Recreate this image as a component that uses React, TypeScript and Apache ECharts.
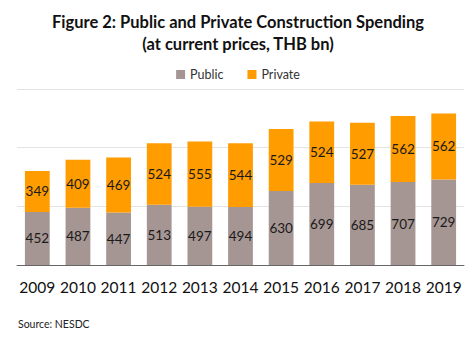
import React, { useEffect, useRef } from "react";
import * as echarts from "echarts";

const years = ["2009", "2010", "2011", "2012", "2013", "2014", "2015", "2016", "2017", "2018", "2019"];
const publicValues = [452, 487, 447, 513, 497, 494, 630, 699, 685, 707, 729];
const privateValues = [349, 409, 469, 524, 555, 544, 529, 524, 527, 562, 562];

const FONT = "Lato, 'Open Sans', sans-serif";

export default function App() {
  const ref = useRef<HTMLDivElement>(null);
  useEffect(() => {
    const chart = echarts.init(ref.current!, null, { renderer: "svg" });
    chart.setOption({
      animation: false,
      textStyle: { fontFamily: FONT },
      title: {
        text: "Figure 2: Public and Private Construction Spending\n(at current prices, THB bn)",
        left: "center",
        top: 6,
        textStyle: { fontSize: 16.5, fontWeight: "bold", color: "#111", lineHeight: 22, fontFamily: FONT },
      },
      legend: {
        top: 63,
        left: "center",
        itemWidth: 9,
        itemHeight: 9,
        itemGap: 24,
        icon: "rect",
        textStyle: { fontSize: 12.5, color: "#333", fontFamily: FONT },
        data: ["Public", "Private"],
      },
      graphic: [
        {
          type: "text",
          left: 18,
          top: 318,
          style: { text: "Source: NESDC", fontSize: 10.5, fill: "#222", fontFamily: FONT },
        },
      ],
      grid: { left: 17, right: 12, top: 89, height: 176 },
      xAxis: {
        type: "category",
        data: years,
        axisTick: { show: false },
        axisLine: { lineStyle: { color: "#666", width: 1 } },
        axisLabel: { fontSize: 15.5, color: "#111", margin: 14, interval: 0, hideOverlap: false, fontFamily: FONT },
      },
      yAxis: {
        type: "value",
        min: 0,
        max: 1500,
        interval: 500,
        axisLabel: { show: false },
        axisLine: { show: false },
        axisTick: { show: false },
        splitLine: { lineStyle: { color: "#e3e3e3", width: 1 } },
      },
      series: [
        {
          name: "Public",
          type: "bar",
          stack: "total",
          data: publicValues,
          barWidth: "61%",
          itemStyle: { color: "#A69693" },
          label: { show: true, position: "inside", fontSize: 13.5, color: "#1a1a1a", fontFamily: FONT },
        },
        {
          name: "Private",
          type: "bar",
          stack: "total",
          data: privateValues,
          barWidth: "61%",
          itemStyle: { color: "#FF9C00" },
          label: { show: true, position: "inside", fontSize: 13.5, color: "#1a1a1a", fontFamily: FONT },
        },
      ],
    });
    return () => chart.dispose();
  }, []);
  return <div ref={ref} style={{ width: 476, height: 340, margin: -8 }} />;
}
